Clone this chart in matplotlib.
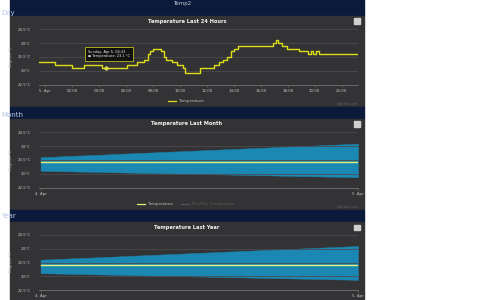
import matplotlib
matplotlib.use("Agg")
import matplotlib.pyplot as plt
from matplotlib.patches import Rectangle
from matplotlib.lines import Line2D

# --- data -------------------------------------------------------------------
# day: step series, hours relative to 5 Apr 00:00
day_hours = [-0.45, 0.75, 2.0, 2.85, 4.2, 6.05, 6.8, 7.3, 7.6, 7.8, 8.0, 8.6,
             8.8, 9.0, 9.4, 9.8, 10.2, 10.4, 11.5, 12.5, 12.9, 13.2, 13.5,
             13.8, 14.0, 14.3, 16.9, 17.1, 17.3, 17.6, 17.9, 18.8, 19.5, 19.7,
             19.9, 20.1, 20.3, 23.2]
day_temp = [23.3, 23.2, 23.1, 23.2, 23.1, 23.2, 23.3, 23.4, 23.6, 23.7, 23.8,
            23.7, 23.5, 23.4, 23.3, 23.2, 23.1, 22.9, 23.1, 23.2, 23.3, 23.4,
            23.5, 23.7, 23.8, 23.9, 24.0, 24.1, 24.0, 23.9, 23.8, 23.7, 23.6,
            23.7, 23.6, 23.7, 23.6, 23.6]
day_ticks = [0, 2, 4, 6, 8, 10, 12, 14, 16, 18, 20, 22]
day_labels = ["5. Apr", "02:00", "04:00", "06:00", "08:00", "10:00", "12:00",
              "14:00", "16:00", "18:00", "20:00", "22:00"]
tip_hour, tip_temp = 4.55, 23.1

# month / year: two points, 4 Apr -> 5 Apr
span_x = [0, 1]
span_labels = ["4. Apr", "5. Apr"]
month_avg = [23.42, 23.42]
month_low = [23.11, 22.88]
month_high = [23.6, 24.09]
year_avg = [23.42, 23.42]
year_low = [23.11, 22.87]
year_high = [23.6, 24.1]

y_ticks = [22.5, 23, 23.5, 24, 24.5]
y_labels = ["22.5°C", "23°C", "23.5°C", "24°C", "24.5°C"]

NAVY = "#0b1a3a"
PANEL = "#333335"
GRID = "#4c4c50"
YELLOW = "#dcdc18"
AVG = "#dff07a"
BAND = "#1a88b2"
W, H = 500, 300


def box(x, y, w, h):
    return [x / W, 1 - (y + h) / H, w / W, h / H]


def rect(fig, x, y, w, h, color, z=-5):
    r = Rectangle((x / W, 1 - (y + h) / H), w / W, h / H,
                  transform=fig.transFigure, color=color, zorder=z)
    fig.patches.append(r)


def ftext(fig, x, y, s, **kw):
    fig.text(x / W, 1 - y / H, s, **kw)


fig = plt.figure(figsize=(5, 3), dpi=100)
fig.patch.set_facecolor("white")

# page bands
rect(fig, 10, 0, 354, 16, NAVY)
rect(fig, 10, 16, 354, 91, PANEL)
rect(fig, 10, 107, 354, 12, NAVY)
rect(fig, 10, 119, 354, 91, PANEL)
rect(fig, 10, 210, 354, 12, NAVY)
rect(fig, 10, 222, 354, 78, PANEL)

ftext(fig, 182, 3, "Temp2", color="#c8ccd6", fontsize=4, ha="center", va="center")
for yy, name in [(13, "Day"), (115, "Month"), (216, "Year")]:
    ftext(fig, 1, yy, name, color="#b8c8e8", fontsize=5, ha="left", va="center")

charts = [
    ("Temperature Last 24 Hours", 21, 29.3, 84.5),
    ("Temperature Last Month", 124, 132.3, 187.7),
    ("Temperature Last Year", 227, 235, 290),
]

axes = []
for title, ty, top, bot in charts:
    ax = fig.add_axes(box(39, top, 319, bot - top))
    ax.set_zorder(2)
    ax.set_facecolor("none")
    ax.set_ylim(22.5, 24.5)
    ax.set_yticks(y_ticks)
    ax.set_yticklabels(y_labels)
    ax.grid(True, axis="y", color=GRID, linewidth=0.6)
    ax.tick_params(axis="y", length=0, pad=6, labelsize=2.8, colors="#c4c4c4")
    ax.tick_params(axis="x", length=1.5, width=0.5, pad=1.5, labelsize=2.8,
                   colors="#c4c4c4", color="#707070")
    for s in ["top", "right", "left"]:
        ax.spines[s].set_visible(False)
    ax.spines["bottom"].set_color("#707070")
    ax.spines["bottom"].set_linewidth(0.6)
    ax.set_ylabel("Degrees °C", fontsize=2.5, color="#c4c4c4", labelpad=3)
    ftext(fig, 187, ty, title, color="#f0f0f0", fontsize=3.7,
          fontweight="bold", ha="center", va="center")
    # menu button
    rect(fig, 354, ty - 2.5, 6, 5, "#cfcfcf", z=5)
    axes.append(ax)

# day chart
ax = axes[0]
ax.step(day_hours, day_temp, where="post", color=YELLOW, linewidth=1.0)
ax.set_xlim(-0.45, 23.2)
ax.set_xticks(day_ticks)
ax.set_xticklabels(day_labels)
ax.plot([tip_hour], [tip_temp], "o", markersize=2.5, markerfacecolor=YELLOW,
        markeredgecolor="#f5f5a0", markeredgewidth=0.4)
ax.annotate("Sunday, Apr 5, 04:33\n● Temperature: 23.1 °C",
            xy=(tip_hour, tip_temp), xytext=(3.2, 23.6), fontsize=2.5,
            color="#f0f0f0", va="center", ha="left",
            bbox=dict(boxstyle="square,pad=0.8", fc="#111111", ec=YELLOW,
                      lw=0.5))
ax.legend([Line2D([], [], color=YELLOW, lw=0.9)], ["Temperature"],
          loc="upper center", bbox_to_anchor=(0.46, -0.2),
          frameon=False, fontsize=2.8, handlelength=2, labelcolor="#c4c4c4")
ftext(fig, 358, 104, "Highcharts.com", color="#666666", fontsize=2,
      ha="right", va="center")

# month and year charts
for ax, avg, low, high in [(axes[1], month_avg, month_low, month_high),
                           (axes[2], year_avg, year_low, year_high)]:
    ax.fill_between(span_x, low, high, facecolor=BAND, edgecolor=BAND,
                    linewidth=0.3)
    ax.plot(span_x, avg, color=AVG, linewidth=1.0)
    ax.set_xlim(-0.005, 1.0)
    ax.set_xticks(span_x)
    ax.set_xticklabels(span_labels)
axes[1].legend([Line2D([], [], color=AVG, lw=0.9),
                Line2D([], [], color="#555555", lw=0.9)],
               ["Temperature", "Min/Max Temperature"],
               loc="upper center", bbox_to_anchor=(0.46, -0.2), ncol=2,
               frameon=False, fontsize=2.8, handlelength=2,
               labelcolor=["#c4c4c4", "#5a5a5a"])
ftext(fig, 358, 207, "Highcharts.com", color="#666666", fontsize=2,
      ha="right", va="center")

fig.savefig("out.png", dpi=100, facecolor="white")
